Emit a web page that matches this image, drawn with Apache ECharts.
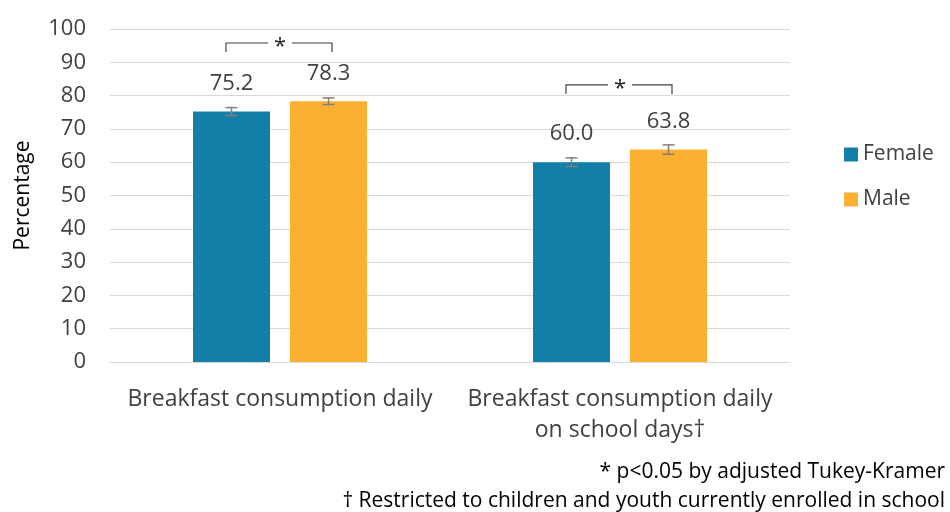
<!DOCTYPE html>
<html>
<head>
<meta charset="utf-8">
<script src="https://cdn.jsdelivr.net/npm/echarts@6/dist/echarts.min.js"></script>
<style>
  html, body { margin: 0; padding: 0; background: #fff; }
  #chart { width: 950px; height: 512px; }
</style>
</head>
<body>
<div id="chart"></div>
<script>
// data
const categories = ['Breakfast consumption daily', 'Breakfast consumption daily\non school days\u2020']
const femaleValues = [75.2, 60.0]
const maleValues = [78.3, 63.8]
const femaleErrors = [1.2, 1.3]
const maleErrors = [1.0, 1.4]
// significance brackets (height of the bracket in %, one per category)
const bracketLevels = [95.8, 83.2]
const footnotes = ['* p<0.05 by adjusted Tukey-Kramer', '\u2020 Restricted to children and youth currently enrolled in school']

const FONT = '"Open Sans", "Noto Sans", sans-serif'
const TEXT = '#404040'
const BAR_W = 77
const BAR_GAP = 20
const HALF = (BAR_W + BAR_GAP) / 2

const chart = echarts.init(document.getElementById('chart'))

// error bar drawing, side = -1 for female, +1 for male
const errorRender = (side) => (params, api) => {
  const cat = api.value(0)
  const lo = api.coord([cat, api.value(1)])
  const hi = api.coord([cat, api.value(2)])
  const x = lo[0] + side * HALF
  const cap = 6
  const style = { stroke: '#7f7f7f', lineWidth: 1.5 }
  return {
    type: 'group',
    children: [
      { type: 'line', shape: { x1: x, y1: lo[1], x2: x, y2: hi[1] }, style },
      { type: 'line', shape: { x1: x - cap, y1: lo[1], x2: x + cap, y2: lo[1] }, style },
      { type: 'line', shape: { x1: x - cap, y1: hi[1], x2: x + cap, y2: hi[1] }, style }
    ]
  }
}

const bracketRender = (params, api) => {
  const cat = api.value(0)
  const top = api.coord([cat, api.value(1)])
  const bottom = api.coord([cat, api.value(1) - 2.7])
  const cx = top[0]
  const x1 = cx - 54
  const x2 = cx + 52
  const style = { stroke: '#404040', lineWidth: 1.2, fill: null }
  return {
    type: 'group',
    children: [
      { type: 'polyline', shape: { points: [[x1, bottom[1]], [x1, top[1]], [cx - 12, top[1]]] }, style },
      { type: 'polyline', shape: { points: [[cx + 12, top[1]], [x2, top[1]], [x2, bottom[1]]] }, style },
      { type: 'text', style: { text: '*', x: cx, y: top[1] + 4, align: 'center', verticalAlign: 'middle', font: '22px ' + FONT, fill: '#222' } }
    ]
  }
}

const option = {
  backgroundColor: '#fff',
  animation: false,
  textStyle: { fontFamily: FONT },
  grid: { left: 110, right: 160, top: 29, bottom: 150 },
  legend: {
    orient: 'vertical',
    left: 839,
    top: 139,
    itemGap: 24,
    itemWidth: 14,
    itemHeight: 14,
    icon: 'rect',
    data: ['Female', 'Male'],
    textStyle: { fontSize: 21, color: TEXT, fontFamily: FONT }
  },
  xAxis: {
    type: 'category',
    data: categories,
    axisTick: { show: false },
    axisLine: { lineStyle: { color: '#d9d9d9' } },
    axisLabel: { interval: 0, hideOverlap: false, fontSize: 23, color: TEXT, margin: 22, lineHeight: 31, fontFamily: FONT }
  },
  yAxis: {
    type: 'value',
    min: 0,
    max: 100,
    interval: 10,
    name: 'Percentage',
    nameLocation: 'middle',
    nameGap: 76,
    nameTextStyle: { fontSize: 21, color: '#000', fontFamily: FONT },
    axisLabel: { fontSize: 22, color: TEXT, margin: 24, fontFamily: FONT },
    splitLine: { lineStyle: { color: '#d9d9d9' } }
  },
  series: [
    {
      name: 'Female',
      type: 'bar',
      data: femaleValues,
      barWidth: BAR_W,
      barGap: (BAR_GAP / BAR_W * 100) + '%',
      itemStyle: { color: '#137fa8' },
      label: { show: true, position: 'top', distance: 17, fontSize: 22, color: TEXT, formatter: p => p.value.toFixed(1) }
    },
    {
      name: 'Male',
      type: 'bar',
      data: maleValues,
      barWidth: BAR_W,
      itemStyle: { color: '#fbb034' },
      label: { show: true, position: 'top', distance: 17, fontSize: 22, color: TEXT, formatter: p => p.value.toFixed(1) }
    },
    {
      type: 'custom',
      renderItem: errorRender(-1),
      data: femaleValues.map((v, i) => [i, v - femaleErrors[i], v + femaleErrors[i]]),
      z: 10
    },
    {
      type: 'custom',
      renderItem: errorRender(1),
      data: maleValues.map((v, i) => [i, v - maleErrors[i], v + maleErrors[i]]),
      z: 10
    },
    {
      type: 'custom',
      renderItem: bracketRender,
      data: bracketLevels.map((v, i) => [i, v]),
      z: 10
    }
  ],
  graphic: [
    {
      type: 'text',
      right: 5,
      top: 462,
      style: { text: footnotes[0], font: '21px ' + FONT, fill: '#000', align: 'right' }
    },
    {
      type: 'text',
      right: 5,
      top: 491,
      style: { text: footnotes[1], font: '21px ' + FONT, fill: '#000', align: 'right' }
    }
  ]
}

chart.setOption(option)
</script>
</body>
</html>
